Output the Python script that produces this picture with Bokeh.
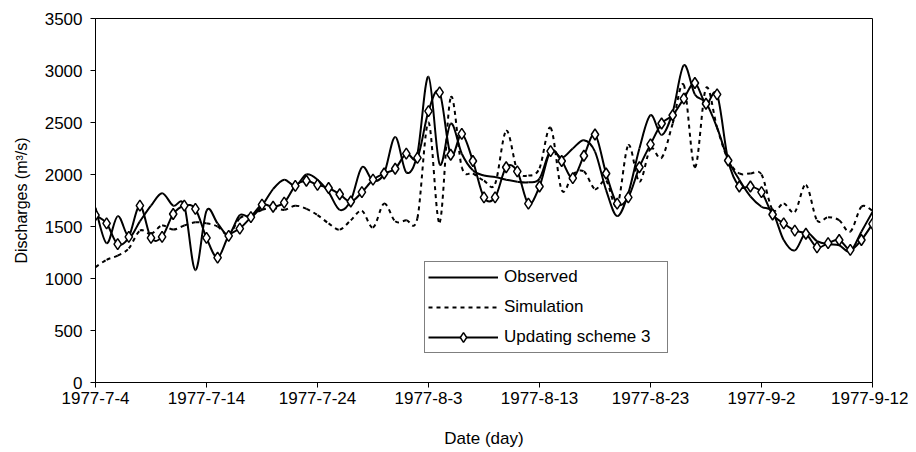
import numpy as np
from bokeh.plotting import figure
from bokeh.models import FixedTicker, Legend, LegendItem, ColumnDataSource
from bokeh.embed import file_html
from bokeh.resources import INLINE

# ---------------- data ----------------
days = list(range(71))  # 1977-7-4 ... 1977-9-12, daily
tick_days = [0, 10, 20, 30, 40, 50, 60, 70]
tick_labels = ["1977-7-4", "1977-7-14", "1977-7-24", "1977-8-3",
               "1977-8-13", "1977-8-23", "1977-9-2", "1977-9-12"]
y_ticks = [0, 500, 1000, 1500, 2000, 2500, 3000, 3500]

observed = [1680, 1340, 1600, 1400, 1550, 1700, 1820, 1700, 1700, 1080,
            1650, 1530, 1420, 1610, 1590, 1700, 1860, 1950, 1890, 2000,
            1950, 1830, 1660, 1750, 2070, 1940, 2010, 2360, 2020, 2200,
            2940, 2100, 2490, 2200, 2040, 1990, 1975, 1950, 1930, 1925,
            1960, 2230, 2160, 2250, 2330, 2220, 1850, 1600, 1820, 2250,
            2570, 2380, 2600, 3050, 2770, 2690, 2450, 2140, 1950, 1790,
            1690, 1640, 1370, 1270, 1440, 1360, 1330, 1320, 1260, 1450,
            1640]

simulation = [1110, 1180, 1220, 1290, 1460, 1430, 1510, 1470, 1510, 1540,
              1530, 1500, 1420, 1580, 1610, 1660, 1680, 1660, 1700, 1670,
              1610, 1530, 1470, 1560, 1650, 1490, 1720, 1550, 1560, 1580,
              2500, 1540, 2740, 2070, 2010, 1940, 1910, 2420, 2040, 1990,
              2060, 2450, 1850, 2000, 2030, 1860, 1940, 1700, 2280, 1930,
              2250, 2160, 2490, 2860, 2070, 2830, 2450, 2140, 2010, 2010,
              2000, 1660, 1720, 1640, 1900, 1560, 1590, 1560, 1450, 1690,
              1650]

updating = [1610, 1530, 1330, 1400, 1700, 1390, 1400, 1620, 1700, 1670,
            1390, 1200, 1410, 1480, 1590, 1710, 1690, 1730, 1890, 1940,
            1900, 1870, 1810, 1740, 1830, 1950, 2010, 2055, 2200, 2160,
            2610, 2790, 2190, 2390, 2130, 1780, 1780, 2070, 2030, 1720,
            1885, 2225, 2130, 1965, 2180, 2385, 2010, 1720, 1780, 2070,
            2290, 2490, 2570, 2730, 2880, 2680, 2770, 2135, 1885, 1885,
            1830, 1615, 1530, 1460, 1430, 1300, 1340, 1370, 1275, 1370,
            1525]

FONT = "Liberation Sans"


def smooth_source(x, y):
    """Cubic Bezier segments through every data point (Excel-like smoothed line)."""
    x = np.asarray(x, float)
    y = np.asarray(y, float)
    n = len(x)
    d = dict(x0=[], y0=[], x1=[], y1=[], cx0=[], cy0=[], cx1=[], cy1=[])
    for i in range(n - 1):
        ip = max(i - 1, 0)
        inx = min(i + 2, n - 1)
        d["x0"].append(x[i]); d["y0"].append(y[i])
        d["x1"].append(x[i + 1]); d["y1"].append(y[i + 1])
        d["cx0"].append(x[i] + (x[i + 1] - x[ip]) / 6.0)
        d["cy0"].append(y[i] + (y[i + 1] - y[ip]) / 6.0)
        d["cx1"].append(x[i + 1] - (x[inx] - x[i]) / 6.0)
        d["cy1"].append(y[i + 1] - (y[inx] - y[i]) / 6.0)
    return ColumnDataSource(d)


p = figure(width=908, height=450, x_range=(0, 70), y_range=(0, 3500),
           output_backend="svg", toolbar_location=None,
           min_border_left=95, min_border_right=36,
           min_border_top=18, min_border_bottom=68)

p.background_fill_color = "white"
p.border_fill_color = "white"
p.outline_line_color = "black"
p.outline_line_width = 1
p.xgrid.visible = False
p.ygrid.visible = False

# axes
p.xaxis.ticker = FixedTicker(ticks=tick_days)
p.xaxis.major_label_overrides = {d: l for d, l in zip(tick_days, tick_labels)}
p.yaxis.ticker = FixedTicker(ticks=y_ticks)
for ax in (p.xaxis, p.yaxis):
    ax.axis_line_color = "black"
    ax.axis_line_width = 1
    ax.major_tick_line_color = "black"
    ax.major_tick_in = 0
    ax.major_tick_out = 5
    ax.minor_tick_line_color = None
    ax.major_label_text_font = FONT
    ax.major_label_text_font_size = "17px"
    ax.major_label_text_color = "black"
    ax.axis_label_text_font = FONT
    ax.axis_label_text_font_style = "normal"
    ax.axis_label_text_color = "black"
p.xaxis.major_label_standoff = 4
p.yaxis.major_label_standoff = 8
p.xaxis.axis_label = "Date (day)"
p.xaxis.axis_label_text_font_size = "17px"
p.xaxis.axis_label_standoff = 22
p.yaxis.axis_label = "Discharges (m³/s)"
p.yaxis.axis_label_text_font_size = "16px"
p.yaxis.axis_label_standoff = 12

# smoothed curves
src_obs = smooth_source(days, observed)
src_sim = smooth_source(days, simulation)
src_upd = smooth_source(days, updating)
bz = dict(x0="x0", y0="y0", x1="x1", y1="y1", cx0="cx0", cy0="cy0", cx1="cx1", cy1="cy1")

p.bezier(source=src_sim, line_color="black", line_width=2, line_dash="4 4", **bz)
p.bezier(source=src_obs, line_color="black", line_width=2, **bz)
p.bezier(source=src_upd, line_color="black", line_width=2, **bz)
p.scatter(days, updating, marker="diamond", size=11, fill_color="white",
          line_color="black", line_width=1.5)

# legend glyph renderers (nothing drawn in the plot: NaN data)
nan = [float("nan")]
leg_obs = p.line(x=nan, y=nan, line_color="black", line_width=2)
leg_sim = p.line(x=nan, y=nan, line_color="black", line_width=2, line_dash="4 4")
leg_upd_l = p.line(x=nan, y=nan, line_color="black", line_width=2)
leg_upd_m = p.scatter(x=nan, y=nan, marker="diamond", size=11, fill_color="white",
                      line_color="black", line_width=1.5)

legend = Legend(items=[LegendItem(label="Observed", renderers=[leg_obs]),
                       LegendItem(label="Simulation", renderers=[leg_sim]),
                       LegendItem(label="Updating scheme 3", renderers=[leg_upd_l, leg_upd_m])],
                location=(329, 29), margin=0, padding=3, spacing=6,
                label_height=24, glyph_height=24, glyph_width=70,
                label_standoff=6, label_width=160,
                label_text_font=FONT, label_text_font_size="17px",
                label_text_color="black",
                border_line_color="black", border_line_width=1,
                background_fill_color="white", background_fill_alpha=1)
p.add_layout(legend)

open("out.html", "w").write(file_html(p, INLINE))
